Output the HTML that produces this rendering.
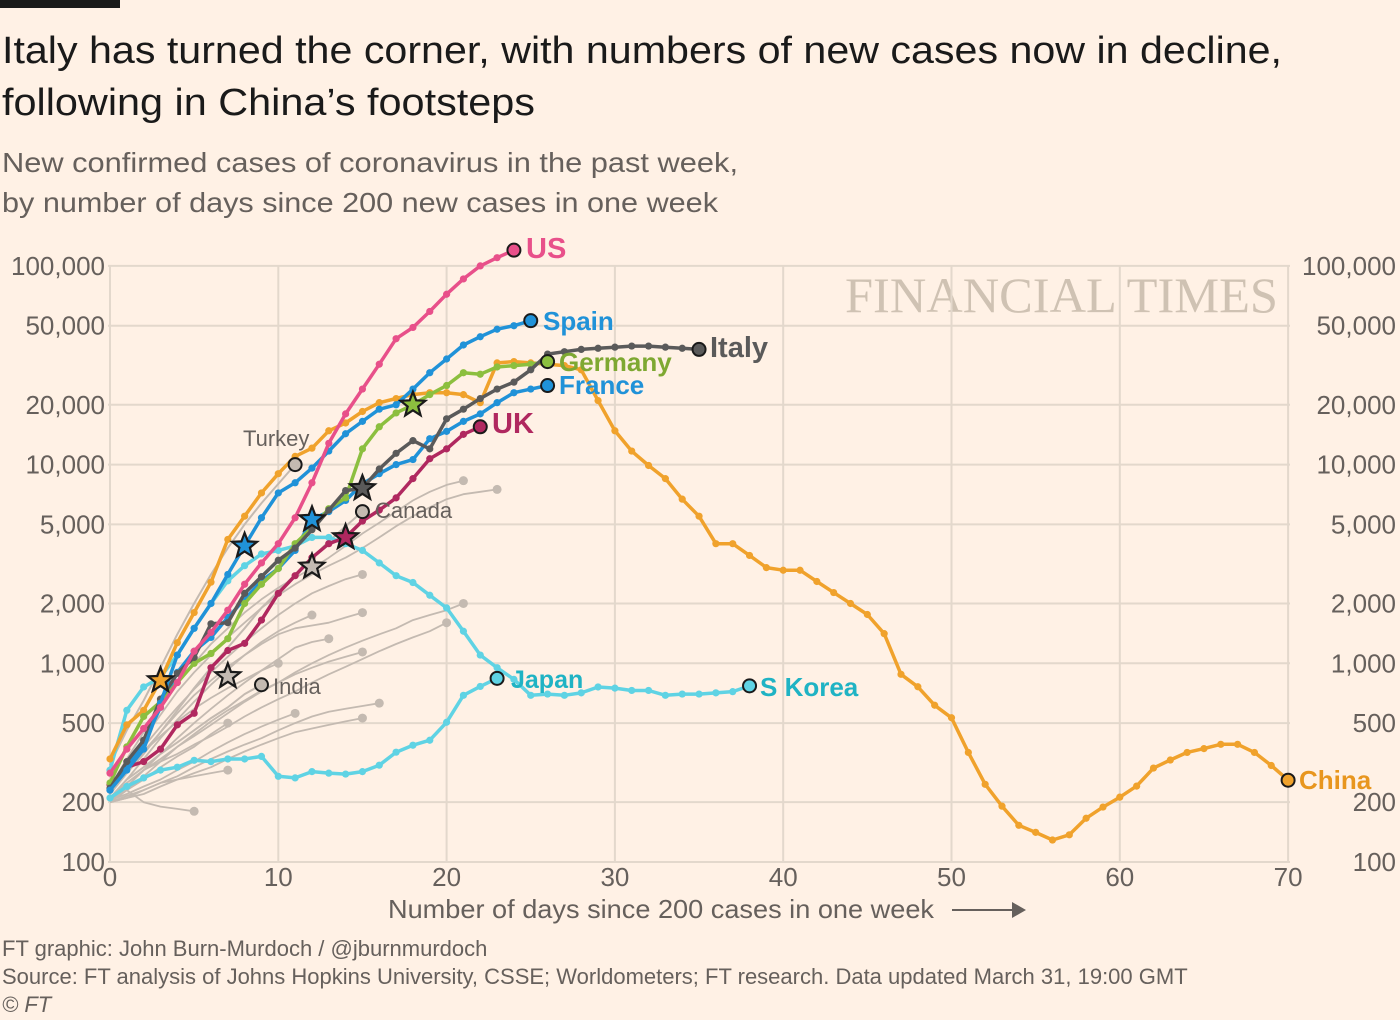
<!DOCTYPE html>
<html><head><meta charset="utf-8">
<style>
html,body{margin:0;padding:0;background:#fff1e5;}
svg{display:block;font-family:"Liberation Sans",sans-serif;}
</style></head>
<body>
<svg id="chart" width="1400" height="1020" viewBox="0 0 1400 1020">
<rect x="0" y="0" width="1400" height="1020" fill="#fff1e5"/>
<rect x="0" y="0" width="120" height="8" fill="#1a1a1a"/>
<text x="2" y="63" font-size="38" fill="#1a1a1a" textLength="1280" lengthAdjust="spacingAndGlyphs">Italy has turned the corner, with numbers of new cases now in decline,</text>
<text x="2" y="115" font-size="38" fill="#1a1a1a" textLength="533" lengthAdjust="spacingAndGlyphs">following in China’s footsteps</text>
<text x="2" y="172" font-size="28" fill="#66605c" textLength="736" lengthAdjust="spacingAndGlyphs">New confirmed cases of coronavirus in the past week,</text>
<text x="2" y="212" font-size="28" fill="#66605c" textLength="716" lengthAdjust="spacingAndGlyphs">by number of days since 200 new cases in one week</text>
<text x="845" y="312" font-size="50" font-family="Liberation Serif, serif" fill="#cfc2b3" textLength="433" lengthAdjust="spacingAndGlyphs">FINANCIAL TIMES</text>
<g id="grid"></g>
<g id="axes"></g>
<g id="series"></g>
<g id="marks"></g>
<g id="labels"></g>
<text x="388" y="918" font-size="26" fill="#66605c" textLength="546" lengthAdjust="spacingAndGlyphs">Number of days since 200 cases in one week</text>
<g>
<line x1="952" y1="910" x2="1014" y2="910" stroke="#66605c" stroke-width="2"/>
<polygon points="1012,902 1026,910 1012,918" fill="#66605c"/>
</g>
<text x="2" y="956" font-size="22" fill="#66605c">FT graphic: John Burn-Murdoch / @jburnmurdoch</text>
<text x="2" y="984" font-size="22" fill="#66605c">Source: FT analysis of Johns Hopkins University, CSSE; Worldometers; FT research. Data updated March 31, 19:00 GMT</text>
<text x="2" y="1012" font-size="22" fill="#66605c" font-style="italic">© FT</text>
</svg>
<script>
const yTicks = [100,200,500,1000,2000,5000,10000,20000,50000,100000];
const xTicks = [0,10,20,30,40,50,60,70];
const china = [330,490,580,820,1270,1800,2560,4200,5500,7200,9000,11000,12100,14800,16200,18500,20500,21500,22500,23000,23000,22500,20500,32500,33000,32500,32000,31500,30000,21000,14800,11700,9900,8500,6700,5500,4000,4000,3490,3030,2940,2940,2580,2270,2000,1760,1410,880,762,615,532,356,246,191,153,141,129,137,166,189,212,241,297,326,356,372,391,391,356,306,258];
const us = [280,370,470,600,800,1150,1430,1850,2500,3200,4000,5400,8100,12800,18000,24000,32000,43000,49000,59000,72000,86000,100000,110000,120000];
const spain = [230,290,370,630,1100,1500,2000,2800,3900,5400,7200,8100,9600,11700,14300,16500,19000,20000,24000,29000,34000,40000,44000,48000,50000,53000];
const france = [230,300,400,600,900,1150,1350,1700,2100,2600,3000,3700,5300,5800,6600,8000,9000,10000,10600,13500,14700,16500,18000,20500,23000,24000,25000];
const italy = [235,320,410,660,890,1070,1580,1600,2250,2730,3300,3800,4700,5900,7400,7600,9500,11400,13200,12000,17000,19000,21500,24000,26000,30000,36000,37000,38000,38500,39000,39500,39500,39000,38500,38000];
const germany = [250,380,540,640,800,1000,1120,1330,2000,2500,3000,4000,4800,6000,6800,12000,15500,18200,20000,22500,25000,29000,28500,31000,31500,32000,33000];
const uk = [245,300,320,370,490,560,950,1160,1260,1650,2250,2760,3400,4000,4300,5200,5900,6800,8500,10700,12000,14200,15500];
const sKorea = [290,580,760,850,1100,1500,2000,2600,3100,3550,3700,3900,4300,4300,4000,3700,3200,2760,2550,2200,1900,1450,1100,950,830,690,700,690,710,760,750,730,730,690,700,700,710,720,770];
const japan = [210,240,265,290,300,325,320,330,330,340,270,265,285,280,277,285,307,357,387,410,505,690,765,840];
const turkey = [310,460,650,950,1400,2000,2800,3800,5000,6400,8000,10000];
const canada = [220,280,350,450,580,750,950,1200,1500,1900,2300,2800,3400,4100,4900,5800];
const india = [210,260,300,350,400,460,530,600,700,780];
const gray1 = [220,300,420,550,720,900,1100,1350,1600,1900,2200,2500,2800,3100,3400,3800,4300,4900,5500,6100,6700,7100,7300,7500];
const gray2 = [240,330,450,600,800,1000,1250,1500,1800,2100,2400,2700,3000,3400,3900,4500,5100,5800,6600,7300,7900,8300];
const gray3 = [200,240,290,330,380,430,490,560,640,720,800,900,1000,1100,1200,1300,1400,1500,1650,1750,1850,2000];
const gray4 = [210,250,290,320,350,390,430,480,540,600,660,720,800,880,960,1050,1150,1250,1350,1450,1600];
const gray5 = [200,215,230,250,270,300,330,360,390,420,460,500,540,570,590,610,630];
const gray6 = [220,280,360,450,560,690,820,960,1100,1250,1400,1500,1550,1600,1700,1800];
const gray7 = [210,260,330,420,520,640,780,930,1100,1280,1450,1600,1750];
const gray8 = [200,240,290,350,420,500,590,690,800,920,1050,1200,1280,1330];
const gray9 = [200,230,270,320,380,440,510,580,650,730,800,880,950,1020,1080,1140];
const gray10 = [230,290,360,430,510,590,670,750,830,920,1000];
const gray11 = [200,210,220,240,260,280,300,330,360,390,420,450,470,490,510,530];
const gray12 = [205,220,240,260,290,320,360,400,440,480,520,560];
const gray13 = [200,230,260,300,340,380,440,500];
const gray14 = [200,210,230,250,260,270,280,290];
const gray15 = [210,230,200,190,185,180];
const gray16 = [230,300,380,480,600,740,900,1080,1280,1500,1750,2000,2250,2450,2650,2800];
const starDays = [3,7,8,12,12,14,15,18];
const starValues = [820,860,3900,5300,3060,4300,7600,20000];
const starColors = ["#f0a22c","#c4bbb3","#2092d8","#2092d8","#c4bbb3","#b0285f","#5a5a5a","#8cbf3f"];

const NS = "http://www.w3.org/2000/svg";
function xs(d){ return 110 + d*16.83; }
function ys(v){ return 862 - 198.7*Math.log10(v/100); }
function mk(tag, attrs, parent){
  const e = document.createElementNS(NS, tag);
  for (const k in attrs) e.setAttribute(k, attrs[k]);
  parent.appendChild(e);
  return e;
}
const grid = document.getElementById('grid');
const axes = document.getElementById('axes');
const series = document.getElementById('series');
const marks = document.getElementById('marks');
const labels = document.getElementById('labels');

yTicks.forEach(v => {
  const g = mk('line', {x1:108, x2:1290, y1:ys(v), y2:ys(v), stroke:'#e3d8cc', 'stroke-width':2}, grid);
  
  
  const l = mk('text', {x:105, y:ys(v)+9, 'font-size':26, fill:'#66605c', 'text-anchor':'end'}, axes);
  l.textContent = v.toLocaleString('en-US');
  
  
  const r = mk('text', {x:1396, y:ys(v)+9, 'font-size':26, fill:'#66605c', 'text-anchor':'end'}, axes);
  r.textContent = v.toLocaleString('en-US');
  
  
});
xTicks.forEach(d => {
  const g = mk('line', {x1:xs(d), x2:xs(d), y1:ys(100000), y2:ys(100), stroke:'#e3d8cc', 'stroke-width':2}, grid);
  
  
  const t = mk('text', {x:xs(d), y:886, 'font-size':26, fill:'#66605c', 'text-anchor':'middle'}, axes);
  t.textContent = d;
  
  
});

function pts(arr){ return arr.map((v,i)=>xs(i).toFixed(1)+','+ys(v).toFixed(1)).join(' '); }

const grays = [gray1,gray2,gray3,gray4,gray5,gray6,gray7,gray8,gray9,gray10,gray11,gray12,gray13,gray14,gray15,gray16];
grays.forEach(arr => {
  const p = mk('polyline', {points:pts(arr), fill:'none', stroke:'#c4bab1', 'stroke-width':1.8, 'stroke-linejoin':'round'}, series);
  
  
  const c = mk('circle', {cx:xs(arr.length-1), cy:ys(arr[arr.length-1]), r:4.5, fill:'#c4bab1'}, series);
  
  
});

function drawLine(arr, color, width, dots, name){
  const p = mk('polyline', {points:pts(arr), fill:'none', stroke:color, 'stroke-width':width, 'stroke-linejoin':'round', 'stroke-linecap':'round'}, series);
  
  
  if (dots){
    arr.forEach((v,i) => {
      const c = mk('circle', {cx:xs(i), cy:ys(v), r:3.6, fill:color}, series);
      
      
    });
  }
}
function endDot(arr, color, name){
  const c = mk('circle', {cx:xs(arr.length-1), cy:ys(arr[arr.length-1]), r:6.5, fill:color, stroke:'#1a1a1a', 'stroke-width':2}, marks);
  
  
}
function label(txt, x, y, color, size, bold, name){
  const t = mk('text', {x:x, y:y, fill:color, 'font-size':size, 'font-weight':bold?'bold':'normal'}, labels);
  t.textContent = txt;
  
  
}

drawLine(turkey, '#c4bab1', 2, false, 'turkey');
drawLine(canada, '#c4bab1', 2, false, 'canada');
drawLine(india, '#c4bab1', 2, false, 'india');
drawLine(japan, '#5fd3e4', 3.5, true, 'japan');
drawLine(sKorea, '#5fd3e4', 3.5, true, 's-korea');
drawLine(china, '#f0a22c', 3.5, true, 'china');
drawLine(uk, '#b0285f', 3.5, true, 'uk');
drawLine(france, '#2092d8', 3.5, true, 'france');
drawLine(germany, '#8cbf3f', 3.5, true, 'germany');
drawLine(italy, '#5a5a5a', 3.5, true, 'italy');
drawLine(spain, '#2092d8', 3.5, true, 'spain');
drawLine(us, '#e8508a', 3.5, true, 'us');

endDot(turkey, '#c4bab1', 'turkey');
endDot(canada, '#c4bab1', 'canada');
endDot(india, '#c4bab1', 'india');
endDot(japan, '#5fd3e4', 'japan');
endDot(sKorea, '#5fd3e4', 's-korea');
endDot(china, '#f0a22c', 'china');
endDot(uk, '#b0285f', 'uk');
endDot(france, '#2092d8', 'france');
endDot(germany, '#8cbf3f', 'germany');
endDot(italy, '#5a5a5a', 'italy');
endDot(spain, '#2092d8', 'spain');
endDot(us, '#e8508a', 'us');

function starPts(cx, cy, R, r){
  const a = [];
  for (let i=0;i<10;i++){
    const ang = -Math.PI/2 + i*Math.PI/5;
    const rad = i%2===0 ? R : r;
    a.push((cx+rad*Math.cos(ang)).toFixed(1)+','+(cy+rad*Math.sin(ang)).toFixed(1));
  }
  return a.join(' ');
}
starDays.forEach((d,i) => {
  const s = mk('polygon', {points:starPts(xs(d), ys(starValues[i]), 13, 5.5), fill:starColors[i], stroke:'#1a1a1a', 'stroke-width':2.2, 'stroke-linejoin':'miter'}, marks);
  
  
});

label('US', 526, 258, '#e8508a', 29, true, 'us-label');
label('Spain', 543, 330, '#2092d8', 26, true, 'spain-label');
label('Italy', 710, 357, '#5a5a5a', 29, true, 'italy-label');
label('Germany', 559, 371, '#7ea832', 26, true, 'germany-label');
label('France', 559, 394, '#2092d8', 26, true, 'france-label');
label('UK', 492, 433, '#b0285f', 29, true, 'uk-label');
label('Japan', 511, 688, '#1fb3c4', 25, true, 'japan-label');
label('S Korea', 760, 696, '#1fb3c4', 26, true, 's-korea-label');
label('China', 1299, 789, '#e8961e', 26, true, 'china-label');
label('Turkey', 243, 446, '#66605c', 22, false, 'turkey-label');
label('Canada', 375, 518, '#66605c', 22, false, 'canada-label');
label('India', 273, 694, '#66605c', 22, false, 'india-label');
</script>
</body></html>
